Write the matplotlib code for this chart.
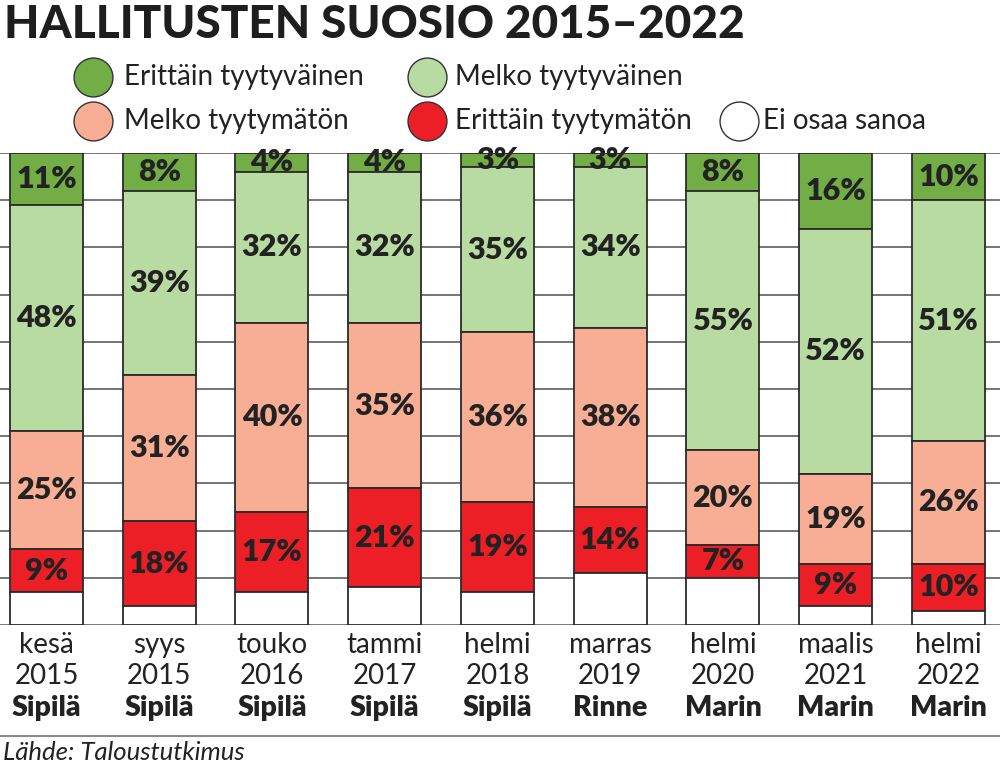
import numpy as np
import matplotlib.pyplot as plt

# survey rounds
months = ["kesä", "syys", "touko", "tammi", "helmi", "marras", "helmi", "maalis", "helmi"]
years = ["2015", "2015", "2016", "2017", "2018", "2019", "2020", "2021", "2022"]
pms = ["Sipilä", "Sipilä", "Sipilä", "Sipilä", "Sipilä", "Rinne", "Marin", "Marin", "Marin"]

# shares in percent, top of the bar first
very_satisfied = [11, 8, 4, 4, 3, 3, 8, 16, 10]
fairly_satisfied = [48, 39, 32, 32, 35, 34, 55, 52, 51]
fairly_dissatisfied = [25, 31, 40, 35, 36, 38, 20, 19, 26]
very_dissatisfied = [9, 18, 17, 21, 19, 14, 7, 9, 10]

names = ["Erittäin tyytyväinen", "Melko tyytyväinen", "Melko tyytymätön",
         "Erittäin tyytymätön", "Ei osaa sanoa"]
colors = ["#72ad45", "#b7dba0", "#f8ae94", "#ec1f27", "#ffffff"]

series = [very_satisfied, fairly_satisfied, fairly_dissatisfied, very_dissatisfied]
dont_know = [100 - sum(v) for v in zip(*series)]
series.append(dont_know)

plt.rcParams['font.family'] = ['Lato', 'DejaVu Sans']

fig = plt.figure(figsize=(10, 7.65), dpi=100)
ax = fig.add_axes([0, 1 - 625 / 765, 1, 472 / 765])

x = np.arange(len(months))
top = np.full(len(months), 100.0)
for k, vals in enumerate(series):
    vals = np.array(vals, dtype=float)
    bottom = top - vals
    if k == len(series) - 1:
        bottom = np.zeros(len(months))
        vals = top.copy()
    ax.bar(x, vals, bottom=bottom, width=0.647, color=colors[k],
           edgecolor="#2b2b2b", linewidth=1.3, zorder=3)
    if k < 4:
        for xi, b, v in zip(x, bottom, vals):
            ax.text(xi, b + v / 2, f"{int(v)}%", ha="center", va="center",
                    fontsize=22, fontweight="heavy", color="#222222", zorder=4)
    top = bottom

ax.set_xlim(-0.412, 8.457)
ax.set_ylim(0, 100)
ax.set_yticks(np.arange(0, 101, 10))
ax.yaxis.grid(True, color="#6a6a6a", linewidth=1.3)
ax.set_axisbelow(True)
ax.tick_params(left=False, bottom=False, labelleft=False, labelbottom=False)
for s in ax.spines.values():
    s.set_visible(False)

for xi, m, y, p in zip(x, months, years, pms):
    ax.annotate(m, (xi, 0), xycoords=("data", "axes fraction"), xytext=(0, -20),
                textcoords="offset pixels", ha="center", va="center",
                fontsize=20, color="#222222")
    ax.annotate(y, (xi, 0), xycoords=("data", "axes fraction"), xytext=(0, -51),
                textcoords="offset pixels", ha="center", va="center",
                fontsize=20, color="#222222")
    ax.annotate(p, (xi, 0), xycoords=("data", "axes fraction"), xytext=(0, -83),
                textcoords="offset pixels", ha="center", va="center",
                fontsize=20.5, fontweight="heavy", color="#222222")

# overlay in pixel units for title, legend and footer
ov = fig.add_axes([0, 0, 1, 1])
ov.set_xlim(0, 1000)
ov.set_ylim(765, 0)
ov.axis("off")
ov.patch.set_alpha(0)

ov.text(4, 38, "HALLITUSTEN SUOSIO 2015–2022", ha="left", va="baseline",
        fontsize=33, fontweight="black", color="#1e1e1e")

leg_pos = [(93, 77), (427, 77), (93, 121), (427, 121), (739, 121)]
text_x = [124, 455, 124, 455, 763]
for (lx, ly), tx, name, c in zip(leg_pos, text_x, names, colors):
    ov.plot(lx, ly, "o", markersize=28, markerfacecolor=c,
            markeredgecolor="#333333", markeredgewidth=1.0)
    ov.text(tx, ly, name, ha="left", va="center", fontsize=20,
            color="#222222")

ov.plot([0, 1000], [736, 736], color="#8a8a8a", linewidth=1.5)
ov.text(3, 752, "Lähde: Taloustutkimus", ha="left", va="center", fontsize=18.5,
        style="italic", color="#222222")

fig.savefig("out.png", dpi=100)
